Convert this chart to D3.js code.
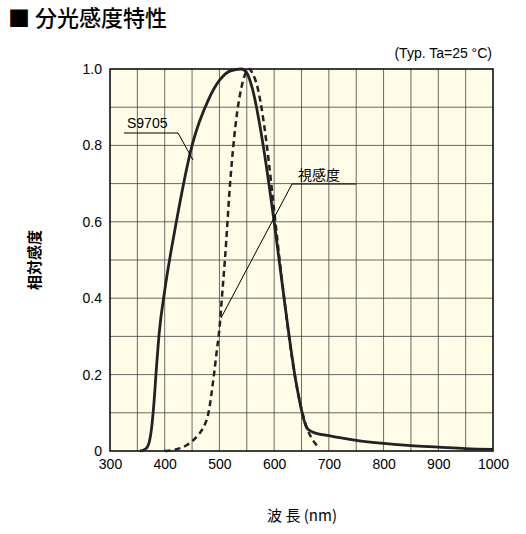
<!DOCTYPE html><html><head><meta charset="utf-8"><script src="https://cdn.jsdelivr.net/npm/d3@7"></script>
<style>body{margin:0;background:#fff}</style></head><body><svg id="c" width="526" height="534"></svg>
<script>
const xTicks=[300,400,500,600,700,800,900,1000];
const yTicks=[0,0.2,0.4,0.6,0.8,1.0];
const s9705X=[355,362,368,372,376,380,385,390,400,420,450,480,500,520,540,550,560,580,600,620,640,660,670,700,750,800,850,900,950,1000];
const s9705Y=[0,0.003,0.01,0.025,0.06,0.12,0.22,0.31,0.42,0.59,0.8,0.92,0.97,0.995,1.0,0.99,0.95,0.8,0.6,0.38,0.18,0.06,0.05,0.04,0.028,0.02,0.014,0.01,0.006,0.004];
const visX=[400,420,440,460,470,480,490,495,500,505,510,520,530,540,550,555,560,570,580,590,600,610,620,630,640,650,660,670,680];
const visY=[0,0.004,0.015,0.04,0.06,0.1,0.2,0.26,0.32,0.41,0.5,0.71,0.86,0.95,0.995,1.0,0.99,0.95,0.87,0.76,0.63,0.5,0.38,0.27,0.18,0.11,0.06,0.03,0.012];
const svg=d3.select("#c");
const L=110,R=493,T=69,B=451;
const x=d3.scaleLinear().domain([300,1000]).range([L,R]);
const y=d3.scaleLinear().domain([0,1]).range([B,T]);
svg.append("rect").attr("x",L).attr("y",T).attr("width",R-L).attr("height",B-T).attr("fill","#fffde8");
svg.selectAll(".gx").data(d3.range(350,1000,50)).join("line").attr("x1",d=>x(d)).attr("x2",d=>x(d)).attr("y1",T).attr("y2",B).attr("stroke","#444").attr("stroke-width",0.8);
svg.selectAll(".gy").data(d3.range(0.1,1,0.1)).join("line").attr("y1",d=>y(d)).attr("y2",d=>y(d)).attr("x1",L).attr("x2",R).attr("stroke","#444").attr("stroke-width",0.8);
svg.append("rect").attr("x",L).attr("y",T).attr("width",R-L).attr("height",B-T).attr("fill","none").attr("stroke","#000").attr("stroke-width",1.5);
const ft="Liberation Sans, Arial, sans-serif";
svg.append("g").attr("transform",`translate(0,${B})`).call(d3.axisBottom(x).tickValues(xTicks).tickSize(0).tickPadding(8).tickFormat(d3.format("d"))).call(g=>g.select(".domain").remove()).selectAll("text").attr("font-size",14).attr("font-family",ft).attr("fill","#000");
svg.append("g").attr("transform",`translate(${L},0)`).call(d3.axisLeft(y).tickValues(yTicks).tickSize(0).tickPadding(8).tickFormat(d=>d===0?"0":d.toFixed(1))).call(g=>g.select(".domain").remove()).selectAll("text").attr("font-size",14).attr("font-family",ft).attr("fill","#000");
const line=d3.line().curve(d3.curveMonotoneX);
svg.append("path").attr("d",line(s9705X.map((d,i)=>[x(d),y(s9705Y[i])]))).attr("fill","none").attr("stroke","#222").attr("stroke-width",2.8);
svg.append("path").attr("d",line(visX.map((d,i)=>[x(d),y(visY[i])]))).attr("fill","none").attr("stroke","#222").attr("stroke-width",2.5).attr("stroke-dasharray","6,4");
svg.append("text").attr("x",127).attr("y",128).text("S9705").attr("font-family",ft).attr("font-size",14);
svg.append("polyline").attr("points","124,133 178,133 193,160").attr("fill","none").attr("stroke","#000").attr("stroke-width",1);
svg.append("text").attr("x",298).attr("y",180).text("視感度").attr("font-family","Noto Sans CJK JP").attr("font-size",14);
svg.append("polyline").attr("points","356,184 292,184 221,318").attr("fill","none").attr("stroke","#000").attr("stroke-width",1);
svg.append("text").attr("x",492).attr("y",58).attr("text-anchor","end").text("(Typ. Ta=25 °C)").attr("font-family",ft).attr("font-size",14);
svg.append("text").attr("x",8).attr("y",26).text("■ 分光感度特性").attr("font-family","Noto Sans CJK JP").attr("font-size",22).attr("font-weight",500);
svg.append("text").attr("x",302).attr("y",521).attr("text-anchor","middle").text("波 長 (nm)").attr("font-family","Noto Sans CJK JP").attr("font-size",15);
svg.append("text").attr("transform","translate(40,260) rotate(-90)").attr("text-anchor","middle").text("相対感度").attr("font-family","Noto Sans CJK JP").attr("font-size",15).attr("font-weight","bold");
</script></body></html>
